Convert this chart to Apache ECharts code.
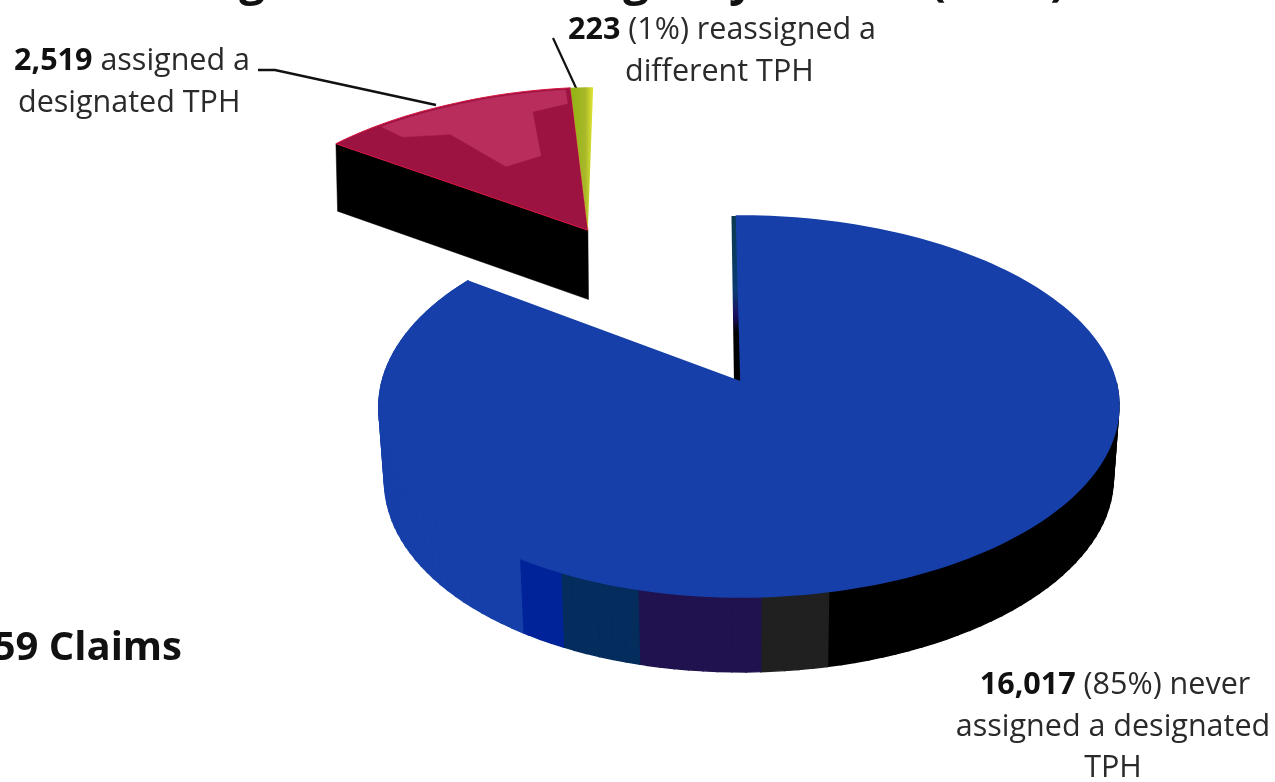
<!DOCTYPE html>
<html><head><meta charset="utf-8">
<style>html,body{margin:0;padding:0;background:#fff}#c{width:1275px;height:782px}</style>
<script src="https://cdn.jsdelivr.net/npm/echarts@6/dist/echarts.min.js"></script>
</head><body><div id="c"></div>
<script>
var sliceNames = ['never assigned a designated TPH', 'assigned a designated TPH', 'reassigned a different TPH'];
var sliceValues = [16017, 2519, 223];
var sliceColors = ['#163fa9', '#9c1240', '#a4bc22'];
var sliceExplode = [0, 1.02, 1.02];
var sliceScale = [1, 1.07, 1.07];
// shaded bands of the rim of the big slice: end angle in degrees from 12 o'clock, colour
var rimBandEnds = [168, 177.3, 194.3, 206, 213, 310];
var rimBandColors = ['#000000', '#202020', '#20124f', '#042c5c', '#00239a', '#163fa9'];

var startDeg = -1.2, apexX = 741, apexY = 382, rx = 367, ry = 187.3, persp = 0.1286;

function project(u, v, down) {
  var w = 1 - persp * v;
  var x = apexX + rx * u / w + 8 * Math.min(u * u, 1);
  var y = apexY + ry * v / w;
  if (down) {            // bottom face: slightly narrower, slightly deeper in front
    x = 748 + (x - 748) * (down === 2 ? 0.996 : 0.985);
    y += 72 + 3 * v;
  }
  return [x, y];
}
function ptAt(deg, ox, oy, down, r) {
  var a = deg * Math.PI / 180; r = r === undefined ? 1 : r;
  return project(ox + r * Math.sin(a), oy - r * Math.cos(a), down);
}
function arc(a0, a1, ox, oy, down, r) {
  var n = Math.max(2, Math.ceil(Math.abs(a1 - a0) / 1.5)), p = [];
  for (var i = 0; i <= n; i++) p.push(ptAt(a0 + (a1 - a0) * i / n, ox, oy, down, r));
  return p;
}
var total = sliceValues.reduce(function (a, b) { return a + b; }, 0);
var slices = [], acc = startDeg;
sliceValues.forEach(function (v, i) {
  var sweep = v / total * 360;
  slices.push({ a0: acc, a1: acc + sweep, i: i });
  acc += sweep;
});
var wedgeMid = (slices[1].a0 + slices[2].a1) / 2 * Math.PI / 180;

function offsetOf(i) {
  return [Math.sin(wedgeMid) * sliceExplode[i], -Math.cos(wedgeMid) * sliceExplode[i]];
}
function poly(points, fill, stroke, lw) {
  return { type: 'polygon', shape: { points: points }, style: { fill: fill, stroke: stroke || fill, lineWidth: lw || 0.5 } };
}

function renderSlice(params, api) {
  var i = api.value(0), s = slices[i], o = offsetOf(i), kids = [], sc = sliceScale[i];
  var a0 = s.a0 + (i ? -1 : 0.4), a1 = s.a1 + (i ? -1 : -0.8);
  var apexTop = project(o[0], o[1], false), apexBot = project(o[0], o[1], 2);
  if (i === 0) {
    var st = ptAt(a0, 0, 0, false);
    kids.push(poly([st, apexTop, [apexTop[0] - 7, apexTop[1]], [st[0] - 5, st[1]]],
      new echarts.graphic.LinearGradient(0, 0, 0, 1, [
        { offset: 0, color: '#0a3a50' }, { offset: 0.45, color: '#0a3a70' },
        { offset: 0.6, color: '#1a1060' }, { offset: 0.7, color: '#000' }, { offset: 1, color: '#000' }]), 'rgba(0,0,0,0)'));
    var prev = 92;
    rimBandEnds.forEach(function (end, b) {
      var e = Math.min(end, a1);
      for (var d = prev; d < e; d += 2) {   // one small quad per step, so the fold at the silhouette stays filled
        var n = Math.min(d + 2, e);
        kids.push(poly([ptAt(d, 0, 0, false), ptAt(n, 0, 0, false), ptAt(n, 0, 0, true), ptAt(d, 0, 0, true)], rimBandColors[b], null, 1.4));
      }
      prev = e;
    });
  } else if (i === 1) {
    var left = ptAt(a0, o[0], o[1], false, sc), leftB = ptAt(a0, o[0], o[1], 2, sc);
    kids.push(poly([left, leftB, apexBot, apexTop], '#000000'));
  }
  var top = arc(a0, a1, o[0], o[1], false, sc);
  top.push(apexTop);
  if (i === 0) kids.push(poly(top, sliceColors[0], sliceColors[0], 1.6));
  if (i === 1) {
    kids.push(poly(top, sliceColors[1], '#d8153f', 1));
    var pts = arc(a0 + 10, a1 - 1, o[0], o[1], false, sc * 0.985);
    [[a1 - 1, .88], [a1 - 9, .84], [a1 - 13, .52], [a1 - 27, .50], [a1 - 30, .8], [a0 + 10, .88]].forEach(function (q) {
      pts.push(ptAt(q[0], o[0], o[1], false, sc * q[1]));
    });
    kids.push(poly(pts, '#b82d5c'));
  }
  if (i === 2) {
    kids.push(poly(top, new echarts.graphic.LinearGradient(0, 0, 1, 0, [
      { offset: 0, color: '#8fb212' }, { offset: 0.65, color: '#a8b82a' }, { offset: 1, color: '#e4e832' }]), 'rgba(0,0,0,0)'));
  }
  return { type: 'group', children: kids };
}

var chart = echarts.init(document.getElementById('c'), null, { renderer: 'canvas' });
var labelFont = '30.5px "Open Sans"', labelBold = 'bold 30.5px "Open Sans"';
var txt = function (x, y, rich, align) {
  return { type: 'text', x: x, y: y, silent: true, style: {
    text: rich, align: align || 'left', verticalAlign: 'middle', fill: '#2a2a2a',
    font: labelFont, lineHeight: 42,
    rich: { b: { font: labelBold, fill: '#111' }, n: { font: labelFont, fill: '#2a2a2a' } }
  } };
};
var titleFragment = function (x, ch) {
  return { type: 'text', x: x, y: 5, silent: true, style: { text: ch, align: 'center', verticalAlign: 'bottom', font: 'bold 46px "Open Sans"', fill: '#111' } };
};
chart.setOption({
  animation: false,
  backgroundColor: '#ffffff',
  series: [{
    type: 'custom', coordinateSystem: 'none', renderItem: renderSlice,
    encode: { tooltip: 1 },
    data: sliceValues.map(function (v, i) { return [i, v, sliceNames[i]]; })
  }],
  graphic: [
    titleFragment(252, 'g'), titleFragment(636, 'g'), titleFragment(742, 'y'), titleFragment(938, '('), titleFragment(1058, ')'),
    { type: 'polyline', silent: true, shape: { points: [[258, 70], [275, 70], [436, 105]] }, style: { stroke: '#111', lineWidth: 2.4, fill: null } },
    { type: 'line', silent: true, shape: { x1: 553, y1: 38, x2: 577, y2: 90 }, style: { stroke: '#111', lineWidth: 2.2 } },
    txt(14, 61, '{b|2,519} {n|assigned a}'),
    txt(18, 103, '{n|designated TPH}'),
    txt(568, 30, '{b|223} {n|(1%) reassigned a}'),
    txt(625, 72, '{n|different TPH}'),
    txt(1115, 685, '{b|16,017} {n|(85%) never}', 'center'),
    txt(1113, 727, '{n|assigned a designated}', 'center'),
    txt(1113, 768, '{n|TPH}', 'center'),
    { type: 'text', x: 182, y: 649, silent: true, style: { text: '18,759 Claims', align: 'right', verticalAlign: 'middle', font: 'bold 40px "Open Sans"', fill: '#111' } }
  ]
});
</script></body></html>
